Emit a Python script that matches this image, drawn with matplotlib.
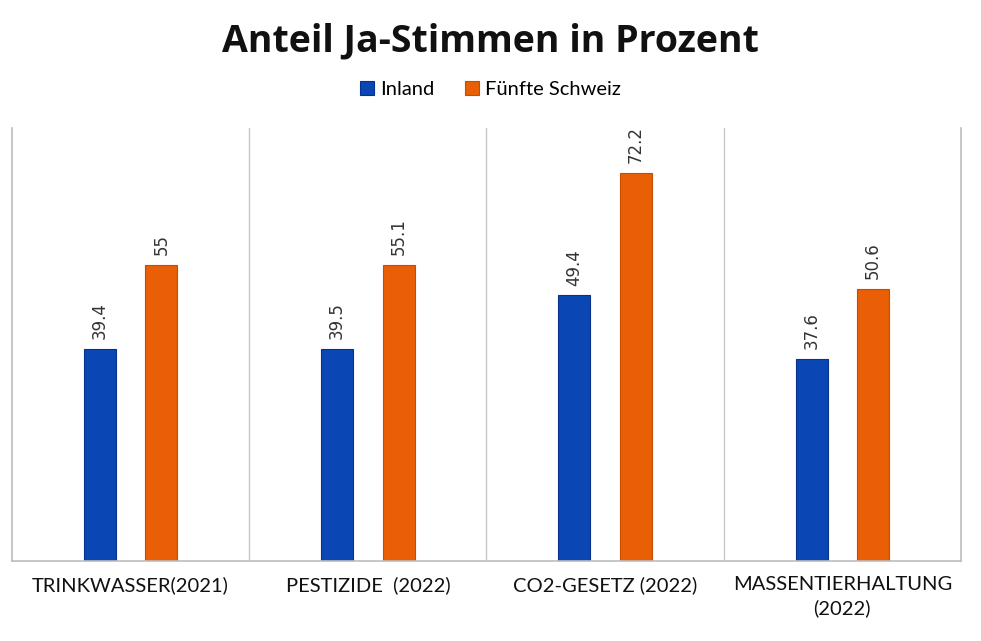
import matplotlib.pyplot as plt
import numpy as np

categories = ["TRINKWASSER(2021)", "PESTIZIDE  (2022)", "CO2-GESETZ (2022)", "MASSENTIERHALTUNG\n(2022)"]
inland = [39.4, 39.5, 49.4, 37.6]
fuenfte = [55, 55.1, 72.2, 50.6]
inland_labels = ["39.4", "39.5", "49.4", "37.6"]
fuenfte_labels = ["55", "55.1", "72.2", "50.6"]

blue = "#0a47b5"
orange = "#e85f05"

fig = plt.figure(figsize=(9.81, 6.41), dpi=100)
ax = fig.add_axes([12 / 981, 80 / 641, 949 / 981, 433 / 641])

x = np.arange(len(categories))
w = 0.135
b1 = ax.bar(x - 0.13, inland, w, color=blue, edgecolor="#07318a", linewidth=0.8)
b2 = ax.bar(x + 0.13, fuenfte, w, color=orange, edgecolor="#c94a02", linewidth=0.8)

for rect, lab in zip(b1, inland_labels):
    ax.text(rect.get_x() + rect.get_width() / 2, rect.get_height() + 1.8, lab,
            rotation=90, ha="center", va="bottom", fontsize=12, color="#333333",
            family="DejaVu Sans")
for rect, lab in zip(b2, fuenfte_labels):
    ax.text(rect.get_x() + rect.get_width() / 2, rect.get_height() + 1.8, lab,
            rotation=90, ha="center", va="bottom", fontsize=12, color="#333333",
            family="DejaVu Sans")

ax.set_xlim(-0.5, 3.5)
ax.set_ylim(0, 80.5)
for sep in [0.5, 1.5, 2.5]:
    ax.axvline(sep, color="#c8c8c8", linewidth=1)
ax.spines["top"].set_visible(False)
for s in ["left", "right", "bottom"]:
    ax.spines[s].set_color("#bdbdbd")
    ax.spines[s].set_linewidth(1.2)
ax.set_yticks([])
ax.set_xticks(x)
ax.set_xticklabels(categories, fontsize=14.5, family="Lato", color="#111111",
                   linespacing=1.4)
ax.tick_params(axis="x", length=0, pad=11)

fig.suptitle("Anteil Ja-Stimmen in Prozent", y=0.965, fontsize=27, fontweight="bold",
             family="Open Sans", color="#111111")
fig.legend([b1, b2], ["Inland", "Fünfte Schweiz"], loc="center", bbox_to_anchor=(0.5, 0.86),
           ncol=2, frameon=False, prop={"family": "Lato", "size": 14.5},
           handlelength=0.7, handleheight=0.7, columnspacing=1.5, handletextpad=0.3)

fig.savefig("out.png", dpi=100)
